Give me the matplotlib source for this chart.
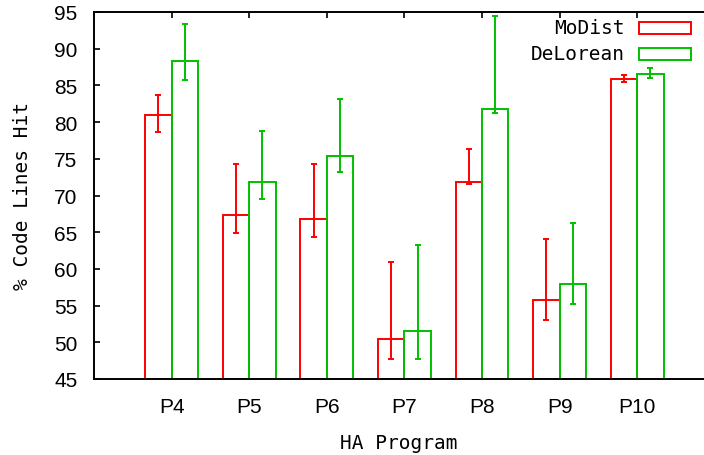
import matplotlib
matplotlib.use("Agg")
import matplotlib.pyplot as plt
import numpy as np
from matplotlib.patches import Rectangle

programs = ["P4", "P5", "P6", "P7", "P8", "P9", "P10"]
modist = [81.0, 67.3, 66.8, 50.4, 71.9, 55.8, 85.9]
modist_lo = [78.6, 64.9, 64.4, 47.7, 71.6, 53.1, 85.4]
modist_hi = [83.7, 74.3, 74.3, 60.9, 76.4, 64.1, 86.4]
delorean = [88.3, 71.9, 75.4, 51.5, 81.8, 57.9, 86.6]
delorean_lo = [85.8, 69.5, 73.2, 47.7, 81.2, 55.2, 86.0]
delorean_hi = [93.4, 78.8, 83.1, 63.3, 94.4, 66.2, 87.4]

RED = "#ff0000"
GREEN = "#00c000"
mono = "DejaVu Sans Mono"
sans = "Liberation Sans"

fig = plt.figure(figsize=(7.04, 4.56), dpi=100)
ax = fig.add_axes([94/704, 76/456, 610/704, 367/456])

x = np.arange(len(programs))
w = 0.34
off = 0.17
for xs, vals, lo, hi, col in [(x - off, modist, modist_lo, modist_hi, RED),
                              (x + off, delorean, delorean_lo, delorean_hi, GREEN)]:
    vals = np.array(vals); lo = np.array(lo); hi = np.array(hi)
    ax.bar(xs, vals - 45, bottom=45, width=w, facecolor="none", edgecolor=col,
           linewidth=1.4, zorder=2)
    ax.errorbar(xs, vals, yerr=[vals - lo, hi - vals], fmt="none", ecolor=col,
                elinewidth=1.4, capsize=2.2, capthick=1.4, zorder=3)

ax.set_xlim(-1, 6.86)
ax.set_ylim(45, 95)
ax.set_yticks(np.arange(45, 96, 5))
ax.set_xticks(x)
ax.set_xticklabels(programs, fontfamily=sans, fontsize=15)
for lab in ax.get_yticklabels():
    lab.set_fontfamily(sans)
    lab.set_fontsize(15)

ax.tick_params(axis="y", direction="in", length=4, width=1.2, pad=12, left=True, right=False)
ax.tick_params(axis="x", direction="in", length=4, width=1.2, pad=13, bottom=False, top=True,
               labelbottom=True, labeltop=False)
ax.spines["right"].set_visible(False)
for s in ["left", "top", "bottom"]:
    ax.spines[s].set_linewidth(1.4)

ax.set_xlabel("HA Program", fontfamily=mono, fontsize=14, labelpad=12)
ax.set_ylabel("% Code Lines Hit", fontfamily=mono, fontsize=14, labelpad=16)

# legend
labels = ["MoDist", "DeLorean"]
colors = [RED, GREEN]
ys = [29, 55]
for lab, col, yy in zip(labels, colors, ys):
    yf = 1 - yy/456
    fig.text(625/704, yf, lab, ha="right", va="center", fontfamily=mono, fontsize=14)
    fig.patches.append(Rectangle((639/704, (456 - yy - 6)/456), 52/704, 12/456,
                                 transform=fig.transFigure, facecolor="none",
                                 edgecolor=col, linewidth=1.4))

fig.savefig("out.png", dpi=100)
